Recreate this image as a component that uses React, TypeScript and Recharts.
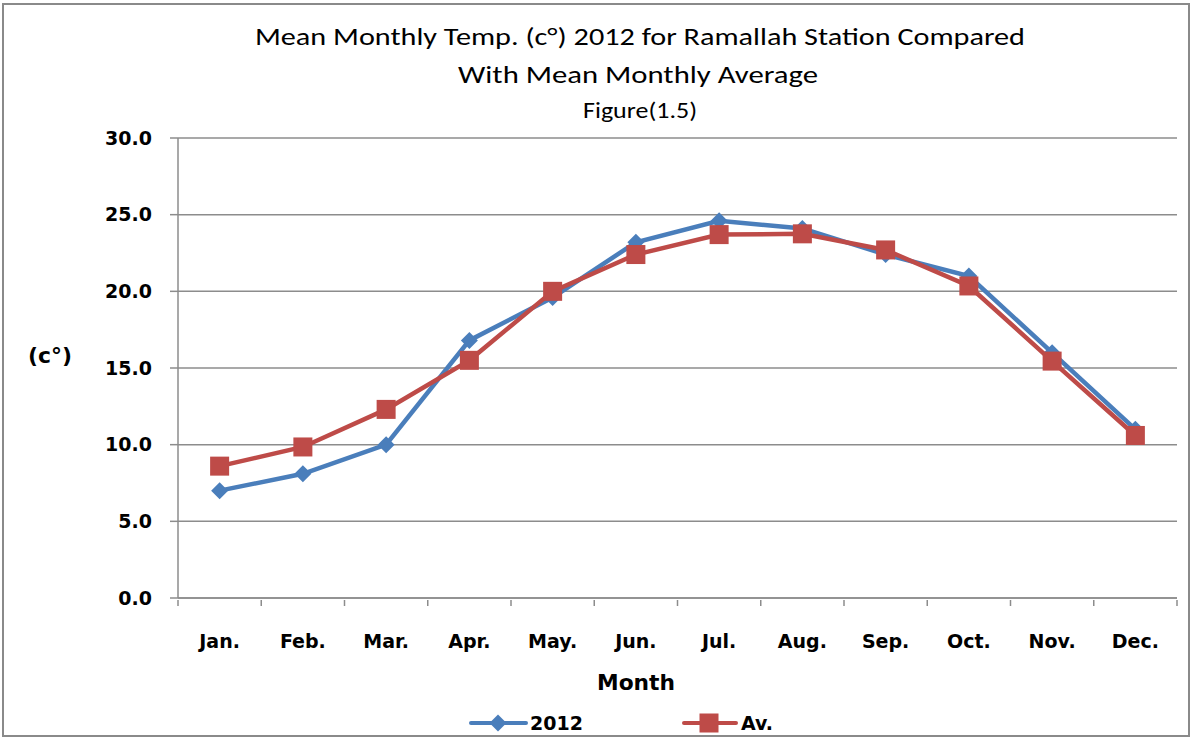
import React from "react";
import { CartesianGrid, Legend, Line, LineChart, XAxis, YAxis } from "recharts";

const months = ["Jan.", "Feb.", "Mar.", "Apr.", "May.", "Jun.", "Jul.", "Aug.", "Sep.", "Oct.", "Nov.", "Dec."];
const temp2012 = [7.0, 8.1, 10.0, 16.8, 19.6, 23.2, 24.6, 24.1, 22.4, 21.0, 16.0, 11.0];
const tempAverage = [8.6, 9.85, 12.3, 15.5, 20.0, 22.4, 23.7, 23.75, 22.7, 20.35, 15.45, 10.6];
const yTicks = [0, 5, 10, 15, 20, 25, 30];

const data = months.map((month, i) => ({ month, y2012: temp2012[i], av: tempAverage[i] }));

const TITLE_FONT = "Carlito, Calibri, Lato, 'Open Sans', sans-serif";
const FONT = "'DejaVu Sans', Verdana, sans-serif";
const BLUE = "#4a7ebb";
const RED = "#be4b48";
const GRID = "#8c8c8c";

const W = 1192;
const H = 738;
const M = { top: 138, right: 15, bottom: 0, left: 0 };
const band = (W - 178 - M.right) / months.length;

const Diamond = (props: any) => {
  const { cx, cy } = props;
  if (cx == null || cy == null) return null;
  const r = 8.5;
  return <path d={`M${cx},${cy - r}L${cx + r},${cy}L${cx},${cy + r}L${cx - r},${cy}Z`} fill={BLUE} />;
};

const Square = (props: any) => {
  const { cx, cy } = props;
  if (cx == null || cy == null) return null;
  const s = 9.5;
  return <rect x={cx - s} y={cy - s} width={s * 2} height={s * 2} fill={RED} />;
};

const MonthTick = (props: any) => {
  const { x, y, payload, index } = props;
  const axisY = y - 6;
  return (
    <g>
      <line x1={x - band / 2} x2={x - band / 2} y1={axisY} y2={axisY + 6} stroke={GRID} strokeWidth={1.5} />
      {index === months.length - 1 && (
        <line x1={x + band / 2} x2={x + band / 2} y1={axisY} y2={axisY + 6} stroke={GRID} strokeWidth={1.5} />
      )}
      <text x={x} y={axisY + 42} textAnchor="middle" dominantBaseline="middle" fontFamily={FONT} fontWeight="bold" fontSize={19} fill="#000">
        {payload.value}
      </text>
    </g>
  );
};

const LegendContent = () => (
  <svg width={W} height={30}>
    <line x1={471} x2={526} y1={15} y2={15} stroke={BLUE} strokeWidth={4} strokeLinecap="round" />
    <Diamond cx={498} cy={15} />
    <text x={530} y={16} dominantBaseline="middle" fontFamily={FONT} fontWeight="bold" fontSize={19} fill="#000">2012</text>
    <line x1={684} x2={736} y1={15} y2={15} stroke={RED} strokeWidth={4} strokeLinecap="round" />
    <Square cx={709} cy={15} />
    <text x={741} y={16} dominantBaseline="middle" fontFamily={FONT} fontWeight="bold" fontSize={19} fill="#000">Av.</text>
  </svg>
);

export default function App() {
  return (
    <div style={{ position: "absolute", left: 0, top: 0, width: W, height: H, background: "#fff" }}>
      <div style={{ position: "absolute", left: 2, top: 3, width: 1184, height: 730, border: "2px solid #8a8a8a" }} />
      <LineChart width={W} height={H} data={data} margin={M}>
        <CartesianGrid vertical={false} stroke={GRID} strokeWidth={1.5} />
        <XAxis
          dataKey="month"
          height={110}
          padding={{ left: band / 2, right: band / 2 }}
          axisLine={{ stroke: GRID, strokeWidth: 1.5 }}
          tickLine={false}
          tick={<MonthTick />}
          interval={0}
        />
        <YAxis
          width={178}
          domain={[0, 30]}
          ticks={yTicks}
          tickFormatter={(v: number) => v.toFixed(1)}
          axisLine={{ stroke: GRID, strokeWidth: 1.5 }}
          tickLine={{ stroke: GRID, strokeWidth: 1.5 }}
          tickSize={8}
          tickMargin={18}
          tick={{ fontFamily: FONT, fontWeight: "bold", fontSize: 19, fill: "#000" }}
        />
        <Legend verticalAlign="bottom" height={30} content={<LegendContent />} wrapperStyle={{ left: 0, width: W }} />
        <Line
          dataKey="y2012"
          name="2012"
          stroke={BLUE}
          strokeWidth={4.5}
          dot={<Diamond />}
          activeDot={false}
          isAnimationActive={false}
        />
        <Line
          dataKey="av"
          name="Av."
          stroke={RED}
          strokeWidth={4.5}
          dot={<Square />}
          activeDot={false}
          isAnimationActive={false}
        />
        <text x={640} y={39} textAnchor="middle" dominantBaseline="middle" fontFamily={TITLE_FONT} fontSize={25} textLength={770} lengthAdjust="spacingAndGlyphs" fill="#000">
          Mean Monthly Temp. (c°) 2012 for Ramallah Station Compared
        </text>
        <text x={638} y={77} textAnchor="middle" dominantBaseline="middle" fontFamily={TITLE_FONT} fontSize={25} textLength={360} lengthAdjust="spacingAndGlyphs" fill="#000">
          With Mean Monthly Average
        </text>
        <text x={640} y={113} textAnchor="middle" dominantBaseline="middle" fontFamily={TITLE_FONT} fontSize={23} textLength={114} lengthAdjust="spacingAndGlyphs" fill="#000">
          Figure(1.5)
        </text>
        <text x={50} y={357} textAnchor="middle" dominantBaseline="middle" fontFamily={FONT} fontWeight="bold" fontSize={21} textLength={44} lengthAdjust="spacingAndGlyphs" fill="#000">
          (c°)
        </text>
        <text x={636} y={684} textAnchor="middle" dominantBaseline="middle" fontFamily={FONT} fontWeight="bold" fontSize={21} textLength={78} lengthAdjust="spacingAndGlyphs" fill="#000">
          Month
        </text>
      </LineChart>
    </div>
  );
}
